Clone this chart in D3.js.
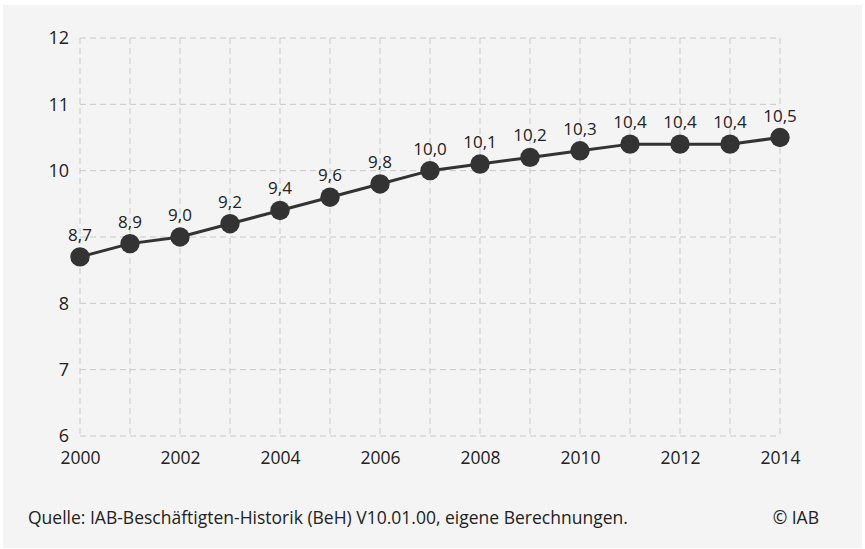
<!DOCTYPE html>
<html><head><meta charset="utf-8">
<script src="https://cdn.jsdelivr.net/npm/d3@7"></script>
<style>
html,body{margin:0;padding:0;background:#fff;}
svg{display:block;}
text{font-family:"Open Sans","Noto Sans",sans-serif;fill:#222;}
</style></head>
<body>
<svg id="c" width="865" height="549"></svg>
<script>
const years = [2000,2001,2002,2003,2004,2005,2006,2007,2008,2009,2010,2011,2012,2013,2014];
const values = [8.7,8.9,9.0,9.2,9.4,9.6,9.8,10.0,10.1,10.2,10.3,10.4,10.4,10.4,10.5];
const valueLabels = ["8,7","8,9","9,0","9,2","9,4","9,6","9,8","10,0","10,1","10,2","10,3","10,4","10,4","10,4","10,5"];
const yGrid = [6,7,8,9,10,11,12];
const yTickLabels = [6,7,8,10,11,12];
const xTicks = [2000,2002,2004,2006,2008,2010,2012,2014];
const sourceText = "Quelle: IAB-Beschäftigten-Historik (BeH) V10.01.00, eigene Berechnungen.";
const copyrightText = "© IAB";

const svg = d3.select("#c");
svg.append("rect").attr("x",3).attr("y",5).attr("width",859).attr("height",543).attr("fill","#f4f4f4");

const x = d3.scaleLinear().domain([2000,2014]).range([80,780]);
const y = d3.scaleLinear().domain([6,12]).range([436,38]);

const grid = svg.append("g").attr("stroke","#c8c8c8").attr("stroke-width",1).attr("stroke-dasharray","6,4").attr("fill","none");
grid.selectAll("line.h").data(yGrid).join("line").attr("class","h")
  .attr("x1",x(2000)).attr("x2",x(2014)).attr("y1",d=>y(d)).attr("y2",d=>y(d));
grid.selectAll("line.v").data(years).join("line").attr("class","v")
  .attr("x1",d=>x(d)).attr("x2",d=>x(d)).attr("y1",y(12)).attr("y2",y(6));

const yAxis = svg.append("g").attr("transform",`translate(${x(2000)},0)`)
  .call(d3.axisLeft(y).tickValues(yTickLabels).tickSize(0).tickPadding(11).tickFormat(d3.format("d")));
yAxis.select(".domain").remove();
yAxis.selectAll("text").attr("font-size",18).attr("fill","#222").attr("font-family","'Open Sans','Noto Sans',sans-serif");

const xAxis = svg.append("g").attr("transform",`translate(0,${y(6)})`)
  .call(d3.axisBottom(x).tickValues(xTicks).tickSize(0).tickPadding(16).tickFormat(d3.format("d")));
xAxis.select(".domain").remove();
xAxis.selectAll("text").attr("font-size",17.5).attr("fill","#222").attr("font-family","'Open Sans','Noto Sans',sans-serif");

const pts = years.map((yr,i)=>({yr,v:values[i],lab:valueLabels[i]}));
svg.append("path").datum(pts).attr("fill","none").attr("stroke","#333").attr("stroke-width",3)
  .attr("d",d3.line().x(d=>x(d.yr)).y(d=>y(d.v)));
svg.selectAll("circle.p").data(pts).join("circle").attr("class","p")
  .attr("cx",d=>x(d.yr)).attr("cy",d=>y(d.v)).attr("r",9.7).attr("fill","#333");
svg.selectAll("text.lab").data(pts).join("text").attr("class","lab")
  .attr("x",d=>x(d.yr)).attr("y",d=>y(d.v)-16).attr("text-anchor","middle")
  .attr("font-size",17).text(d=>d.lab);

svg.append("text").attr("x",28).attr("y",524).attr("font-size",17.5).text(sourceText);
svg.append("text").attr("x",819).attr("y",524).attr("text-anchor","end").attr("font-size",17.5).text(copyrightText);
</script>
</body></html>
